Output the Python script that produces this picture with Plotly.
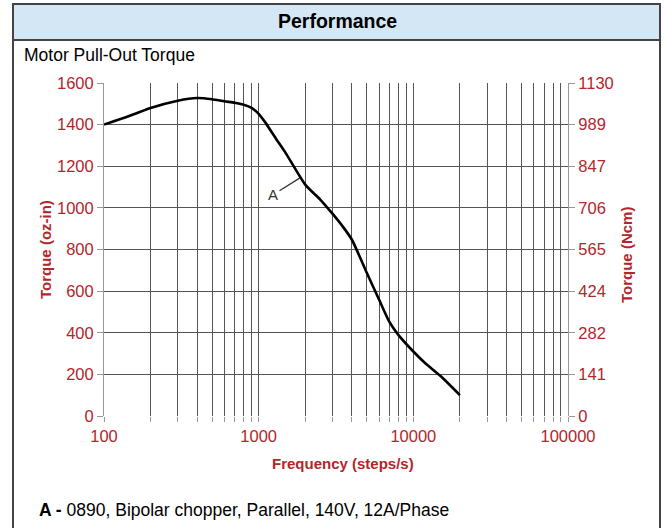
import math
import plotly.graph_objects as go

# ---- data ----
freq = [100, 150, 200, 300, 400, 500, 600, 700, 800, 900, 1000, 1100, 1300, 1500,
        2000, 2500, 3000, 3500, 4000, 5000, 6000, 7000, 8000, 10000, 12000, 15000, 20000]
torque = [1400, 1445, 1480, 1515, 1528, 1522, 1512, 1505, 1495, 1480, 1452, 1412, 1330, 1262,
          1112, 1040, 972, 910, 848, 688, 560, 452, 390, 310, 252, 192, 100]

y_left_ticks = [0, 200, 400, 600, 800, 1000, 1200, 1400, 1600]
y_right_labels = ["0", "141", "282", "424", "565", "706", "847", "989", "1130"]
x_decades = [100, 1000, 10000, 100000]
x_decade_labels = ["100", "1000", "10000", "100000"]

curve_label = "A"
curve_label_point = (1850, 1144)
footer_bold = "A -"
footer_text = " 0890, Bipolar chopper, Parallel, 140V, 12A/Phase"

RED = "#b3262a"
GRID = "#555555"
FONT = "Liberation Sans, Arial, sans-serif"

# x grid values at every 1..9 multiple
x_tickvals, x_ticktext = [], []
for d in x_decades[:-1]:
    for k in range(1, 10):
        x_tickvals.append(d * k)
        x_ticktext.append(x_decade_labels[x_decades.index(d)] if k == 1 else "")
x_tickvals.append(x_decades[-1])
x_ticktext.append(x_decade_labels[-1])

fig = go.Figure()
fig.add_trace(go.Scatter(x=freq, y=torque, mode="lines",
                         line=dict(color="black", width=2.6, shape="spline", smoothing=0.6),
                         showlegend=False, hoverinfo="skip"))
# invisible trace for right axis
fig.add_trace(go.Scatter(x=[freq[0]], y=[0], yaxis="y2", mode="markers",
                         marker=dict(opacity=0), showlegend=False, hoverinfo="skip"))

fig.update_layout(
    width=664, height=528,
    margin=dict(l=104, r=96, t=83, b=112),
    paper_bgcolor="white", plot_bgcolor="white",
    font=dict(family=FONT, size=16.5, color=RED),
    xaxis=dict(type="log", range=[2, 5], tickvals=x_tickvals, ticktext=x_ticktext,
               showgrid=True, gridcolor=GRID, gridwidth=1,
               ticks="outside", ticklen=5, tickcolor="#999",
               tickfont=dict(color=RED, size=16.5), showline=False, zeroline=False),
    yaxis=dict(range=[0, 1600], tickvals=y_left_ticks,
               showgrid=True, gridcolor=GRID, gridwidth=1,
               ticks="outside", ticklen=6, tickcolor="#999",
               tickfont=dict(color=RED, size=16.5), zeroline=False,
               showline=True, linecolor="#999", linewidth=1),
    yaxis2=dict(range=[0, 1600], overlaying="y", side="right",
                tickvals=y_left_ticks, ticktext=y_right_labels,
                showgrid=False, ticks="outside", ticklen=6, tickcolor="#999",
                tickfont=dict(color=RED, size=16.5), zeroline=False,
                showline=True, linecolor="#999", linewidth=1),
)

# Frame: header box and side borders
fig.add_shape(type="rect", xref="paper", yref="paper",
              x0=-91 / 464, x1=556 / 464, y0=(416 - 40) / 333, y1=(416 - 4) / 333,
              fillcolor="#d4e7f4", line=dict(color="#444", width=2), layer="below")
fig.add_shape(type="line", xref="paper", yref="paper",
              x0=-91 / 464, x1=-91 / 464, y0=(416 - 40) / 333, y1=(416 - 540) / 333,
              line=dict(color="#444", width=2))
fig.add_shape(type="line", xref="paper", yref="paper",
              x0=556 / 464, x1=556 / 464, y0=(416 - 40) / 333, y1=(416 - 540) / 333,
              line=dict(color="#444", width=2))

def px(x, y):
    return (x - 104) / 464, (416 - y) / 333

anns = []
hx, hy = px(337, 21)
anns.append(dict(x=hx, y=hy, text="<b>Performance</b>", font=dict(size=19.5, color="black")))
sx, sy = px(22, 55)
anns.append(dict(x=sx, y=sy, text="Motor Pull-Out Torque", xanchor="left",
                 font=dict(size=17.5, color="black")))
lx, ly = px(45, 250)
anns.append(dict(x=lx, y=ly, text="<b>Torque (oz-in)</b>", textangle=-90,
                 font=dict(size=15, color=RED)))
rx, ry = px(626, 255)
anns.append(dict(x=rx, y=ry, text="<b>Torque (Ncm)</b>", textangle=-90,
                 font=dict(size=15, color=RED)))
fx, fy = px(343, 463)
anns.append(dict(x=fx, y=fy, text="<b>Frequency (steps/s)</b>",
                 font=dict(size=15, color=RED)))
bx, by = px(37, 510)
anns.append(dict(x=bx, y=by, text="<b>" + footer_bold + "</b>" + footer_text, xanchor="left",
                 font=dict(size=17.5, color="black")))
for a in anns:
    a.update(xref="paper", yref="paper", showarrow=False, yanchor="middle")
    a.setdefault("xanchor", "center")
    fig.add_annotation(**a)

fig.add_annotation(x=math.log10(curve_label_point[0]), y=curve_label_point[1],
                   xref="x", yref="y", text=curve_label, showarrow=True,
                   arrowhead=0, arrowwidth=1.3, arrowcolor="#333",
                   ax=-27, ay=17, font=dict(size=15, color="#333"), bgcolor="white")

fig.write_html("out.html", config={"displayModeBar": False},
               post_script="document.body.style.margin='0';document.body.style.padding='0';")
